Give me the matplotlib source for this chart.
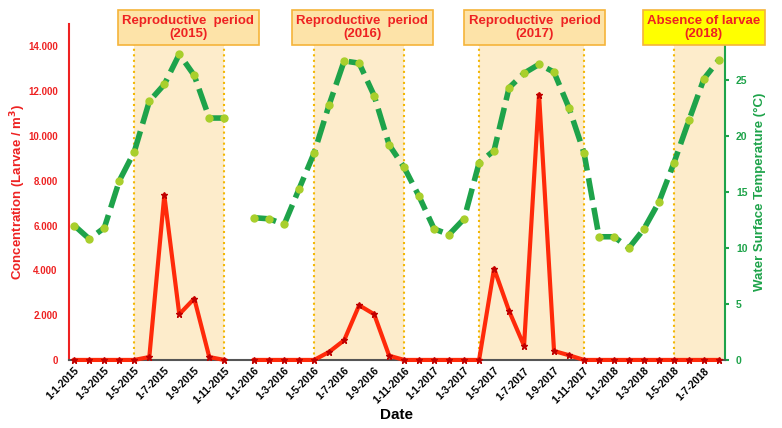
import numpy as np
import matplotlib
matplotlib.use("Agg")
import matplotlib.pyplot as plt
from matplotlib.ticker import FuncFormatter
import matplotlib.transforms as mtransforms

plt.rcParams['font.family'] = ['Liberation Sans', 'DejaVu Sans']

# Monthly series Jan-2015 .. Aug-2018 (Dec-2015 missing -> None)
months = ["1-%d-%d" % (m, y) for y in (2015, 2016, 2017, 2018) for m in range(1, 13)][:44]

larvae = [0, 0, 0, 0, 0, 130, 7350, 2040, 2740, 130, 0, None,
          0, 0, 0, 0, 0, 360, 880, 2440, 2040, 190, 0, 0,
          0, 0, 0, 0, 4080, 2190, 630, 11850, 400, 210, 0, 0,
          0, 0, 0, 0, 0, 0, 0, 0]

temperature = [12.0, 10.8, 11.8, 16.0, 18.6, 23.1, 24.6, 27.3, 25.4, 21.6, 21.6, None,
               12.7, 12.6, 12.1, 15.3, 18.5, 22.8, 26.7, 26.5, 23.6, 19.2, 17.2, 14.6,
               11.7, 11.2, 12.6, 17.6, 18.7, 24.3, 25.6, 26.4, 25.7, 22.5, 18.5, 11.0,
               11.0, 10.0, 11.7, 14.1, 17.6, 21.4, 25.1, 26.8]

periods_start = ["1-5-2015", "1-5-2016", "1-4-2017", "1-5-2018"]
periods_end = ["1-11-2015", "1-11-2016", "1-11-2017", None]
period_labels = ["Reproductive  period\n(2015)", "Reproductive  period\n(2016)",
                 "Reproductive  period\n(2017)", "Absence of larvae\n(2018)"]
label_centers = [7.6, 19.2, 30.7, 42.0]

tick_labels = months[::2]

x = np.arange(len(months))
lar = np.array([np.nan if v is None else v for v in larvae], dtype=float)
tem = np.array([np.nan if v is None else v for v in temperature], dtype=float)

fig = plt.figure(figsize=(7.82, 4.28), dpi=100)
ax = fig.add_axes([0.088, 0.159, 0.839, 0.785])
ax2 = ax.twinx()
xmin, xmax = -0.37, 43.4
ax.set_xlim(xmin, xmax)
ax2.set_xlim(xmin, xmax)
ax.set_ylim(0, 15000)
ax2.set_ylim(0, 30)

# ax (larvae) on top, ax2 (temperature + shading) below
ax.set_zorder(ax2.get_zorder() + 1)
ax.patch.set_visible(False)

shade = '#fdeccb'
for s, e in zip(periods_start, periods_end):
    i0 = months.index(s)
    i1 = months.index(e) if e else xmax
    ax2.axvspan(i0, i1, color=shade, zorder=0, lw=0)
    ax2.axvline(i0, color='#f2b705', ls=':', lw=1.5, zorder=1)
    if e:
        ax2.axvline(i1, color='#f2b705', ls=':', lw=1.5, zorder=1)

ax2.plot(x, tem, color='#1ea34a', lw=4, ls=(0, (4, 1.4)), marker='o', ms=5,
         mfc='#a9cf2c', mec='#a9cf2c', zorder=4)
ax.plot(x, lar, color='#ff2a0a', lw=3, marker='*', ms=5,
        mfc='#c00000', mec='#c00000', zorder=5, clip_on=False)

ax.set_xticks(x[::2])
ax.set_xticklabels(tick_labels, rotation=45, ha='right', rotation_mode='anchor',
                   fontsize=7.5, fontweight='bold')
ax.tick_params(axis='x', length=0, pad=4)

ax.set_yticks(np.arange(0, 14001, 2000))
ax.yaxis.set_major_formatter(FuncFormatter(lambda v, p: "{:,.0f}".format(v).replace(',', '.')))
ax.tick_params(axis='y', colors='#ee2222', labelsize=7, length=0, pad=8)
for t in ax.get_yticklabels():
    t.set_fontweight('bold')
ax2.set_yticks(np.arange(0, 26, 5))
ax2.tick_params(axis='y', colors='#1ea34a', labelsize=7.5, length=3, width=1.5, pad=5)
for t in ax2.get_yticklabels():
    t.set_fontweight('bold')

for a in (ax, ax2):
    a.spines['top'].set_visible(False)
ax.spines['left'].set_color('#ee2222')
ax.spines['left'].set_linewidth(1.5)
ax.spines['right'].set_visible(False)
ax2.spines['left'].set_visible(False)
ax2.spines['right'].set_color('#1ea34a')
ax2.spines['right'].set_linewidth(1.5)
ax2.spines['bottom'].set_visible(False)
ax.spines['bottom'].set_color('#555555')
ax.spines['bottom'].set_linewidth(1.5)

ax.set_ylabel("Concentration (Larvae / m$\\mathbf{^3}$)", color='#ee2222',
              fontsize=9.5, fontweight='bold')
ax.yaxis.set_label_coords(-0.062, 0.5)
ax2.set_ylabel("Water Surface Temperature (°C)", color='#1ea34a',
               fontsize=9.5, fontweight='bold', labelpad=5)
ax.set_xlabel("Date", fontsize=11, fontweight='bold', labelpad=2)

trans = mtransforms.blended_transform_factory(ax.transData, fig.transFigure)
for i, (lab, cx) in enumerate(zip(period_labels, label_centers)):
    fc = '#ffff00' if i == 3 else '#fde3a8'
    ax.text(cx, 0.936, lab, transform=trans, ha='center', va='center',
            color='#ee2222', fontsize=9.5, fontweight='bold', linespacing=1.15,
            zorder=10, clip_on=False,
            bbox=dict(boxstyle='square,pad=0.35', fc=fc, ec='#f5b43a', lw=1.2))

fig.savefig("out.png", dpi=100)
